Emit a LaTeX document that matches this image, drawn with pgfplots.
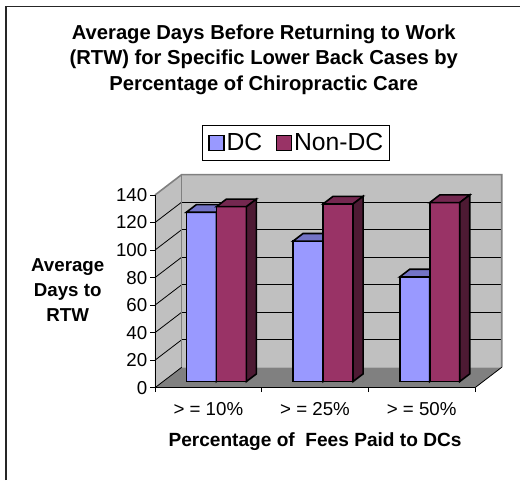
\documentclass[border=0pt]{standalone}
\usepackage{fontspec}
\setmainfont{Liberation Sans}
\usepackage{pgfplots}
\pgfplotsset{compat=1.18}
\usepackage{pgfplotstable}

\definecolor{dcfront}{HTML}{9999FF}
\definecolor{dctop}{HTML}{7373C6}
\definecolor{dcside}{HTML}{4D4D80}
\definecolor{ncfront}{HTML}{993366}
\definecolor{nctop}{HTML}{742850}
\definecolor{ncside}{HTML}{4D1A33}
\definecolor{wallc}{HTML}{C0C0C0}
\definecolor{floorc}{HTML}{808080}
\definecolor{edgec}{HTML}{808080}

\pgfplotstableread{
x v
0.5 123
1.5 102
2.5 76
}\dctable
\pgfplotstableread{
x v
0.5 127
1.5 129
2.5 130
}\nctable

% a whole 3-D bar (front, top and right side), drawn at the data point (front plane)
\newcommand\barfaces[5]{%
  \pgfsetlinewidth{1.6pt}\pgfsetmiterjoin\pgfsetstrokecolor{black}%
  \pgfmathsetlengthmacro\barh{\pgfplotspointmetatransformed*1.3764}%
  % front
  \pgfpathmoveto{\pgfpoint{#1}{6.2pt}}%
  \pgfpathlineto{\pgfpoint{#2}{6.2pt}}%
  \pgfpathlineto{\pgfpoint{#2}{6.2pt-\barh}}%
  \pgfpathlineto{\pgfpoint{#1}{6.2pt-\barh}}%
  \pgfpathclose
  \pgfsetfillcolor{#3}\pgfusepath{fill,stroke}%
  % top
  \pgfpathmoveto{\pgfpoint{#1}{6.2pt}}%
  \pgfpathlineto{\pgfpoint{#2}{6.2pt}}%
  \pgfpathlineto{\pgfpoint{#2+10pt}{13.84pt}}%
  \pgfpathlineto{\pgfpoint{#1+10pt}{13.84pt}}%
  \pgfpathclose
  \pgfsetfillcolor{#4}\pgfusepath{fill,stroke}%
  % side
  \pgfpathmoveto{\pgfpoint{#2}{6.2pt}}%
  \pgfpathlineto{\pgfpoint{#2+10pt}{13.84pt}}%
  \pgfpathlineto{\pgfpoint{#2+10pt}{13.84pt-\barh}}%
  \pgfpathlineto{\pgfpoint{#2}{6.2pt-\barh}}%
  \pgfpathclose
  \pgfsetfillcolor{#5}\pgfusepath{fill,stroke}%
}
\pgfdeclareplotmark{dcbar}{\barfaces{-21.9pt}{8.1pt}{dcfront}{dctop}{dcside}}
\pgfdeclareplotmark{ncbar}{\barfaces{8.1pt}{38.1pt}{ncfront}{nctop}{ncside}}

\begin{document}
\begin{tikzpicture}
\path[use as bounding box] (0,0) rectangle (520pt,480pt);
\draw[line width=1.5pt, black!85] (5.75pt,0pt) -- (5.75pt,473.5pt) -- (520pt,473.5pt);
\begin{scope}[every node/.style={anchor=base, font=\bfseries\fontsize{20.2}{24}\selectfont, inner sep=0pt}]
\node at (263.8pt,440.8pt) {Average Days Before Returning to Work};
\node at (263.8pt,415.3pt) {(RTW) for Specific Lower Back Cases by};
\node at (263.8pt,389.8pt) {Percentage of Chiropractic Care};
\end{scope}
\begin{axis}[
  at={(155pt,92.3pt)}, anchor=south west,
  x=106.667pt, y=1.3764pt,
  xmin=0, xmax=3, ymin=0, ymax=140,
  enlargelimits=false, clip=false, axis on top,
  axis lines*=left,
  axis line style={black, line width=0.8pt},
  tick style={black, line width=0.8pt},
  tick align=outside, major tick length=4.5pt,
  ytick={0,20,...,140},
  xtick={0,1,2,3}, x tick label as interval,
  xticklabels={> = 10\%, > = 25\%, > = 50\%},
  /pgf/number format/assume math mode=true,
  tick label style={font=\fontsize{18.7}{22}\selectfont},
  yticklabel style={anchor=east, inner sep=0pt, xshift=-3pt},
  xticklabel style={anchor=base, inner sep=0pt, yshift=-23.5pt},
  ylabel={Average\\Days to\\RTW},
  ylabel style={rotate=-90, align=center, font=\bfseries\fontsize{18.7}{25.3}\selectfont,
    at={(axis description cs:-0.2728,0.5065)}, anchor=center},
  xlabel={Percentage of\ \ Fees Paid to DCs},
  xlabel style={font=\bfseries\fontsize{19.1}{23}\selectfont,
    at={(axis description cs:0.5,0)}, anchor=base, inner sep=0pt, yshift=-58.3pt},
  legend columns=2,
  legend image code/.code={\draw[#1] (0pt,-7.5pt) rectangle (15pt,7.5pt); \path (16.5pt,0pt);},
  legend style={at={(axis description cs:0.4406,1.2698)}, anchor=center,
    draw=black, line width=0.8pt, inner xsep=6pt, inner ysep=8pt,
    font=\fontsize{24.7}{28}\selectfont,
    nodes={inner sep=0.5pt},
    /tikz/every even column/.append style={column sep=13pt}},
]
% walls and floor
\fill[wallc] (axis cs:0,0) -- (axis cs:0,140) -- (axis cs:0.2503,154.82) -- (axis cs:0.2503,14.82) -- cycle;
\fill[wallc] (axis cs:0.2503,14.82) -- (axis cs:0.2503,154.82) -- (axis cs:3.2503,154.82) -- (axis cs:3.2503,14.82) -- cycle;
\fill[floorc] (axis cs:0,0) -- (axis cs:3,0) -- (axis cs:3.2503,14.82) -- (axis cs:0.2503,14.82) -- cycle;
\pgfplotsinvokeforeach{20,40,60,80,100,120}{
  \draw[black, line width=0.8pt] (axis cs:0.2503,#1+14.82) -- (axis cs:3.2503,#1+14.82);
}
\pgfplotsinvokeforeach{0,20,40,60,80,100,120}{
  \draw[black, line width=0.8pt] (axis cs:0,#1) -- (axis cs:0.2503,#1+14.82);
}
\draw[edgec, line width=1.6pt] (axis cs:0,140) -- (axis cs:0.2503,154.82) -- (axis cs:3.2503,154.82) -- (axis cs:3.2503,14.82);
\draw[edgec, line width=1.6pt] (axis cs:0.2503,14.82) -- (axis cs:0.2503,154.82);
\draw[black, line width=0.8pt] (axis cs:3,0) -- (axis cs:3.2503,14.82);

\addlegendimage{fill=dcfront, draw=black, line width=1.3pt}
\addlegendentry{DC}
\addlegendimage{fill=ncfront, draw=black, line width=1.3pt}
\addlegendentry{Non-DC}

% front faces of the bars
\addplot[forget plot, ybar, bar width=30pt, bar shift=-15pt, fill=dcfront, draw=black,
  line width=1.6pt, xshift=8.1pt, yshift=6.2pt] table[x=x, y=v] {\dctable};
\addplot[forget plot, ybar, bar width=30pt, bar shift=15pt, fill=ncfront, draw=black,
  line width=1.6pt, xshift=8.1pt, yshift=6.2pt] table[x=x, y=v] {\nctable};
% whole 3-D bars, DC first, then Non-DC in front of it
\addplot[forget plot, scatter, only marks, mark=dcbar,
  point meta=y, point meta min=0, point meta max=1000,
  scatter/@pre marker code/.code={}, scatter/@post marker code/.code={}]
  table[x=x, y=v] {\dctable};
\addplot[forget plot, scatter, only marks, mark=ncbar,
  point meta=y, point meta min=0, point meta max=1000,
  scatter/@pre marker code/.code={}, scatter/@post marker code/.code={}]
  table[x=x, y=v] {\nctable};
\end{axis}
\end{tikzpicture}
\end{document}
